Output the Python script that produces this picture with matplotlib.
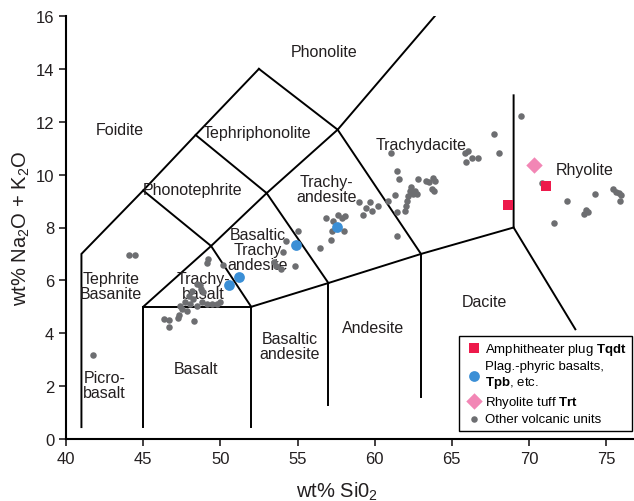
import matplotlib
matplotlib.use("Agg")
import matplotlib.pyplot as plt

plt.rcParams['font.family'] = ['Liberation Sans', 'DejaVu Sans']
plt.rcParams['mathtext.fontset'] = 'custom'
plt.rcParams['mathtext.rm'] = 'Liberation Sans'
plt.rcParams['mathtext.bf'] = 'Liberation Sans:bold'

# TAS field boundaries (SiO2, Na2O+K2O)
boundaries = [
    [(41, 0.45), (41, 7), (45, 9.4), (48.4, 11.5), (52.5, 14)],
    [(45, 0.45), (45, 5), (52, 5), (52, 0.45)],
    [(52, 5), (57, 5.9), (63, 7), (69, 8)],
    [(57, 1.3), (57, 5.9)],
    [(63, 1.6), (63, 7)],
    [(45, 5), (49.4, 7.3), (52, 5)],
    [(45, 9.4), (49.4, 7.3), (53, 9.3), (57, 5.9)],
    [(48.4, 11.5), (53, 9.3), (57.6, 11.7), (52.5, 14)],
    [(57.6, 11.7), (63, 7)],
    [(57.6, 11.7), (63.9, 16)],
    [(69, 13), (69, 8), (73.0, 4.15)],
]

field_names = ["Phonolite", "Foidite", "Tephriphonolite", "Phonotephrite",
               "Trachy-\nandesite", "Trachydacite", "Rhyolite",
               "Basaltic\nTrachy\nandesite", "Tephrite\nBasanite", "Trachy-\nbasalt",
               "Basaltic\nandesite", "Andesite", "Dacite", "Basalt", "Picro-\nbasalt"]
field_x = [56.7, 43.5, 52.4, 48.2, 56.9, 63.0, 73.6, 52.4, 42.9, 48.9, 54.5, 59.9, 67.1, 48.4, 42.5]
field_y = [14.65, 11.7, 11.6, 9.45, 9.45, 11.15, 10.2, 7.15, 5.8, 5.8, 3.5, 4.2, 5.2, 2.65, 2.05]

# sample data
tqdt_si = [68.65, 71.07]
tqdt_alk = [8.86, 9.58]

tpb_si = [50.55, 51.2, 54.89, 57.54]
tpb_alk = [5.83, 6.13, 7.35, 8.03]

trt_si = [70.33]
trt_alk = [10.38]

other_si = [41.75, 44.08, 44.47,
            49.19, 49.13, 50.16, 48.67, 48.74, 48.16, 47.96, 48.87, 47.70, 48.03, 48.48,
            48.80, 49.13, 49.45, 49.77, 49.97, 47.51, 47.83, 47.38, 48.22, 46.34, 46.67,
            47.25, 47.31, 48.28, 46.67, 48.48,
            55.02, 54.24, 54.05, 53.46, 53.59, 53.92, 54.82, 56.44, 57.15,
            56.83, 57.28, 57.61, 58.06, 57.86, 57.22, 57.99, 58.96, 59.68, 59.42, 59.81,
            60.19, 59.22, 60.84, 61.29, 61.42, 62.01, 61.94, 61.42,
            61.04, 61.42, 61.55, 62.78, 62.33, 62.27, 62.59, 62.46, 62.72, 62.14, 63.30,
            63.50, 63.75, 63.88, 63.69, 63.82, 62.07,
            66.02, 65.83, 65.89, 66.28, 66.67, 67.70, 68.03, 69.45,
            70.87, 72.43, 74.30, 75.47, 75.66, 75.86, 75.99, 75.92, 73.66, 73.53, 73.79, 71.59]
other_alk = [3.18, 6.97, 6.97,
             6.82, 6.67, 6.59, 5.83, 5.68, 5.61, 5.42, 5.57, 5.19, 5.11, 5.04,
             5.19, 5.11, 5.11, 5.11, 5.19, 4.92, 4.85, 5.04, 5.30, 4.55, 4.51,
             4.58, 4.70, 4.47, 4.24, 5.87,
             7.88, 7.50, 7.08, 6.70, 6.55, 6.44, 6.55, 7.23, 7.54,
             8.37, 8.26, 8.48, 8.45, 8.37, 7.88, 7.88, 8.98, 8.98, 8.75, 8.64,
             8.83, 8.48, 9.02, 9.24, 8.60, 8.83, 8.64, 7.69,
             10.83, 10.15, 9.85, 9.85, 9.55, 9.39, 9.39, 9.28, 9.28, 9.20, 9.77,
             9.73, 9.89, 9.77, 9.47, 9.39, 9.02,
             10.91, 10.83, 10.49, 10.64, 10.61, 11.55, 10.83, 12.20,
             9.70, 9.02, 9.28, 9.47, 9.36, 9.32, 9.24, 9.02, 8.67, 8.52, 8.60, 8.18]

fig = plt.figure(figsize=(6.34, 5.02), dpi=100)
ax = fig.add_axes([66 / 634, 62 / 502, 568 / 634, 423 / 502])

for seg in boundaries:
    xs, ys = zip(*seg)
    ax.plot(xs, ys, color='black', lw=1.4, solid_joinstyle='miter', zorder=1)

for name, fx, fy in zip(field_names, field_x, field_y):
    ax.text(fx, fy, name, ha='center', va='center', fontsize=11.5,
            color='#231f20', linespacing=1.0, zorder=2)

ax.scatter(other_si, other_alk, s=22, color='#6d6e71', lw=0, zorder=3,
           label='Other volcanic units')
ax.scatter(tqdt_si, tqdt_alk, s=60, marker='s', color='#ed1a4b', lw=0, zorder=4,
           label=r'Amphitheater plug $\bf{Tqdt}$')
ax.scatter(tpb_si, tpb_alk, s=60, color='#3b8fd6', lw=0, zorder=4,
           label='Plag.-phyric basalts,\n' + r'$\bf{Tpb}$, etc.')
ax.scatter(trt_si, trt_alk, s=70, marker='D', color='#f286b5', lw=0, zorder=4,
           label=r'Rhyolite tuff $\bf{Trt}$')

handles, labels = ax.get_legend_handles_labels()
order = [1, 2, 3, 0]
leg = ax.legend([handles[i] for i in order], [labels[i] for i in order],
                loc='lower right', bbox_to_anchor=(0.997, 0.02), fontsize=9.5,
                frameon=True, fancybox=False, edgecolor='black', framealpha=1,
                handletextpad=0.1, handlelength=1.5, borderpad=0.4,
                labelspacing=0.25, borderaxespad=0)
leg.get_frame().set_linewidth(1.0)
leg.set_zorder(5)

ax.set_xlim(40, 76.8)
ax.set_ylim(0, 16)
ax.set_xticks(range(40, 76, 5))
ax.set_yticks(range(0, 17, 2))
ax.tick_params(direction='out', length=5, width=1.2, labelsize=12, colors='#231f20')
for side in ['top', 'right']:
    ax.spines[side].set_visible(False)
for side in ['left', 'bottom']:
    ax.spines[side].set_linewidth(1.5)

ax.set_xlabel('wt% Si0$_2$', fontsize=14.5, color='#231f20')
ax.set_ylabel('wt% Na$_2$O + K$_2$O', fontsize=14.5, color='#231f20')
ax.xaxis.set_label_coords(0.477, -0.097)
ax.yaxis.set_label_coords(-0.06, 0.5)

plt.savefig('out.png', dpi=100)
